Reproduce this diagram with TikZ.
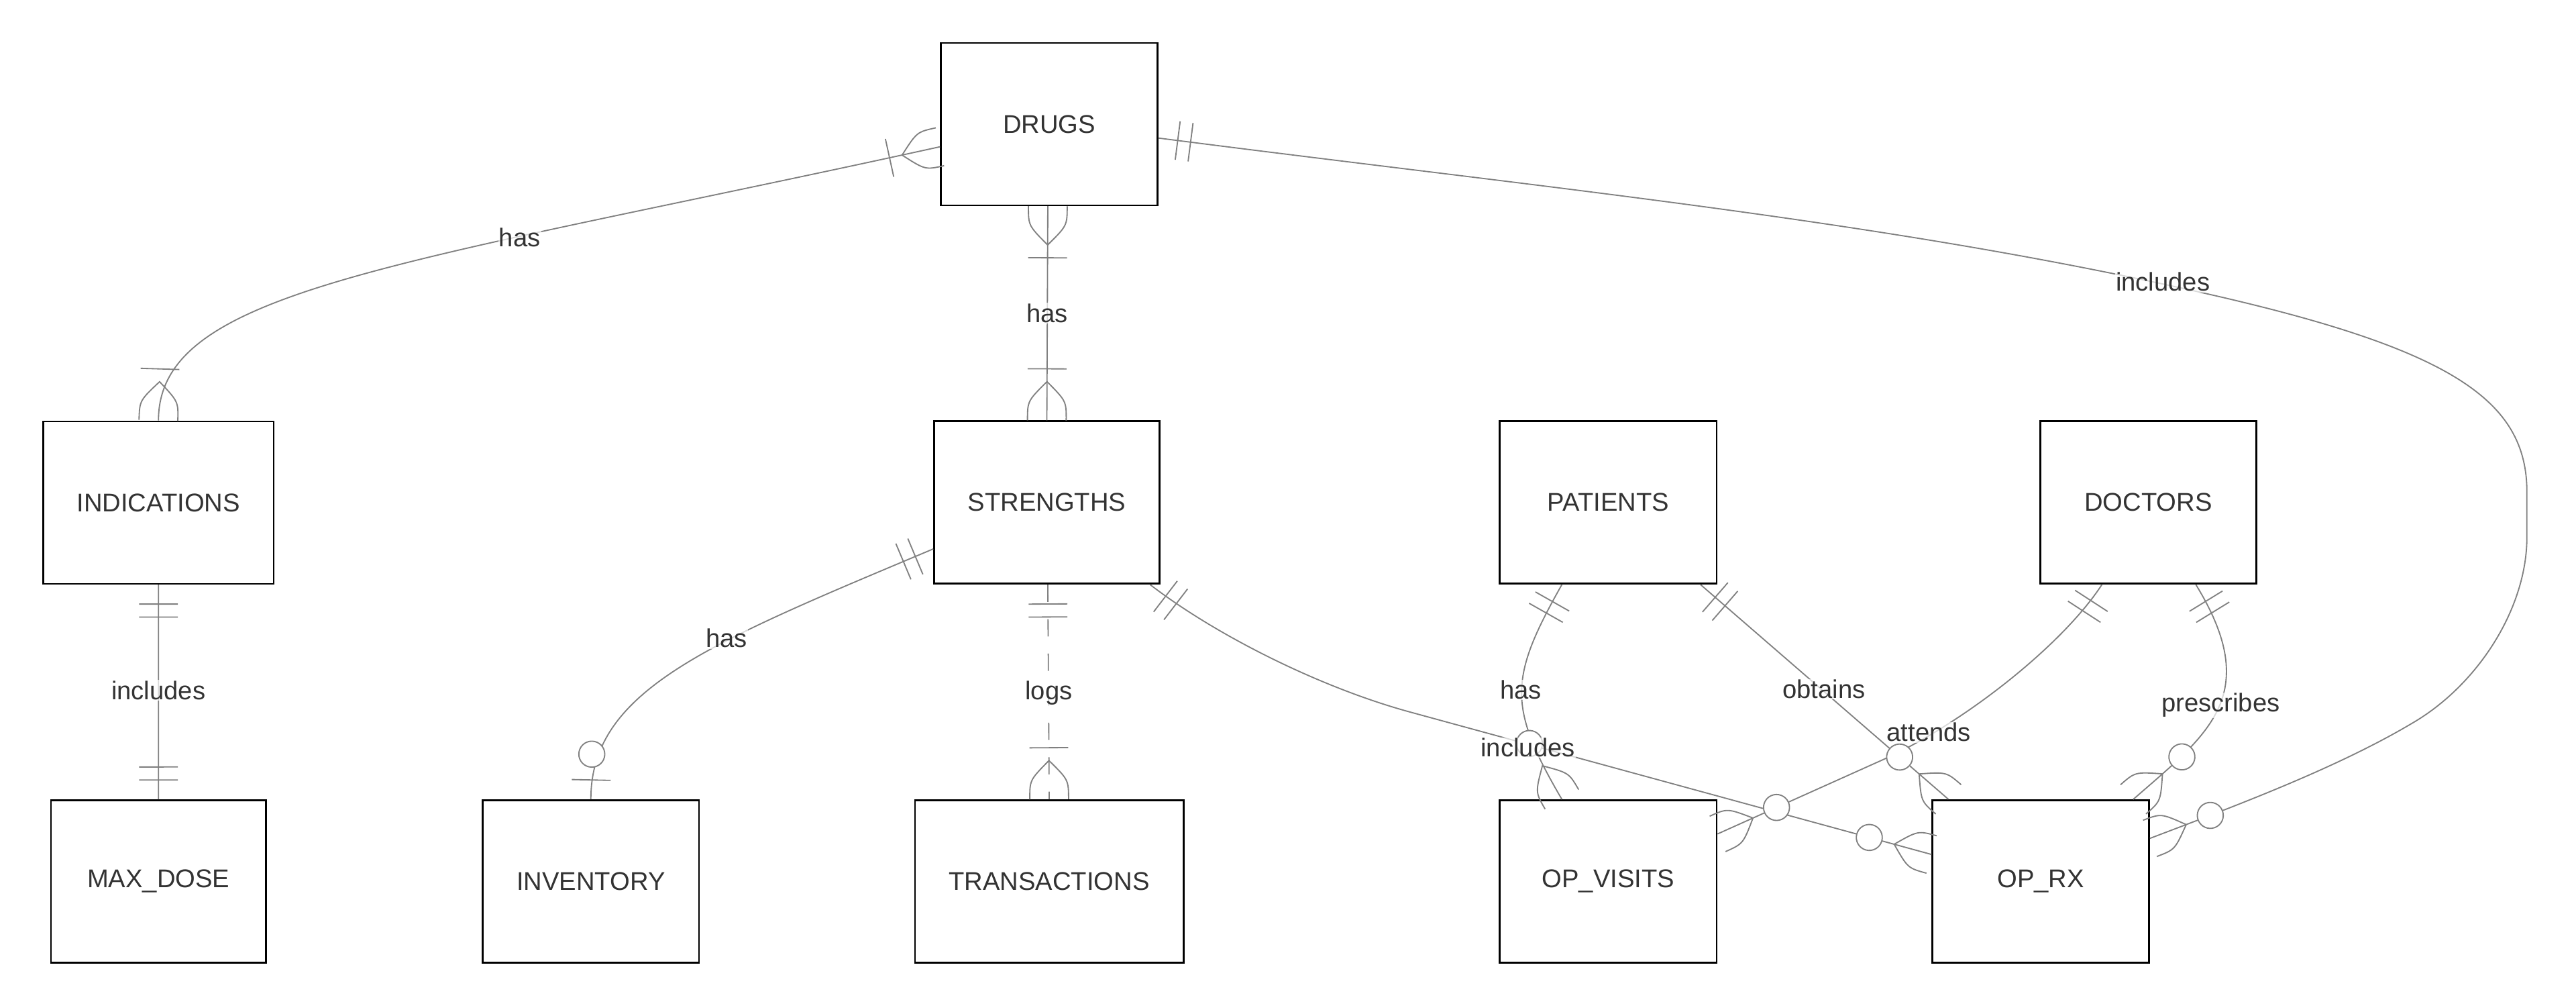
\documentclass[tikz,border=0pt]{standalone}
\usepackage{fontspec}
\setmainfont{Liberation Sans}
\usetikzlibrary{decorations.markings}
\definecolor{lc}{HTML}{808080}
\definecolor{txt}{HTML}{333333}
% #1 = direction sign (+1 start, -1 end), #2 = distance from the box edge, #3 = local offset of the box edge
\newcommand\mkbar[3]{\draw[mk] ({#3+(#1)*(#2pt)},-11.8pt) -- ({#3+(#1)*(#2pt)},11.8pt);}
\newcommand\mkcirc[3]{\draw[mk,fill=white] ({#3+(#1)*(#2pt)},0pt) circle[radius=7.9pt];}
\newcommand\mkcrow[2]{\draw[mk] ({#2},11.8pt) .. controls ({#2+(#1)*11.8pt},11.8pt) .. ({#2+(#1)*23.6pt},0pt) .. controls ({#2+(#1)*11.8pt},-11.8pt) .. ({#2},-11.8pt);}
\tikzset{
  entity/.style={draw=black, line width=1.1pt, fill=white, minimum height=98.8pt, inner sep=0pt, text=txt, font=\fontsize{15.6pt}{18pt}\selectfont},
  lbl/.style={fill=white, fill opacity=0.7, text opacity=1, text=txt, inner sep=0.5pt, anchor=base, font=\fontsize{15.6pt}{18pt}\selectfont},
  conn/.style={draw=lc, line width=0.75pt},
  mk/.style={draw=lc, line width=0.75pt, solid},
  dashline/.style={dash pattern=on 10.5pt off 10.5pt},
  s1m/.style={postaction={decorate,decoration={markings,mark=at position 0pt with {\mkcrow{1}{0pt}\mkbar{1}{31.4}{0pt}}}}},
  e1m/.style={postaction={decorate,decoration={markings,mark=at position -2pt with {\mkcrow{-1}{2pt}\mkbar{-1}{31.4}{2pt}}}}},
  s11/.style={postaction={decorate,decoration={markings,mark=at position 0pt with {\mkbar{1}{11.8}{0pt}\mkbar{1}{19.7}{0pt}}}}},
  e11/.style={postaction={decorate,decoration={markings,mark=at position -2pt with {\mkbar{-1}{11.8}{2pt}\mkbar{-1}{19.7}{2pt}}}}},
  e0m/.style={postaction={decorate,decoration={markings,mark=at position -2pt with {\mkcrow{-1}{2pt}\mkcirc{-1}{39.3}{2pt}}}}},
  e01/.style={postaction={decorate,decoration={markings,mark=at position -2pt with {\mkbar{-1}{11.8}{2pt}\mkcirc{-1}{27.5}{2pt}}}}}
}
\begin{document}
\begin{tikzpicture}[x=1pt,y=-1pt]
\fill[white] (0,0) rectangle (1568,613.3);
\useasboundingbox (0,0) rectangle (1568,613.3);

% entities
\node[entity, minimum width=131.9pt] (drugs) at (638.65,75.5) {DRUGS};
\node[entity, minimum width=140.3pt] (indications) at (96.45,305.8) {INDICATIONS};
\node[entity, minimum width=137.2pt] (strengths) at (637.2,305.75) {STRENGTHS};
\node[entity, minimum width=132pt] (patients) at (978.9,305.75) {PATIENTS};
\node[entity, minimum width=131.3pt] (doctors) at (1307.65,305.75) {DOCTORS};
\node[entity, minimum width=131pt] (max_dose) at (96.5,536.3) {MAX\_DOSE};
\node[entity, minimum width=131.7pt] (inventory) at (359.65,536.3) {INVENTORY};
\node[entity, minimum width=163.5pt] (transactions) at (638.65,536.3) {TRANSACTIONS};
\node[entity, minimum width=132pt] (op_visits) at (978.9,536.3) {OP\_VISITS};
\node[entity, minimum width=131.8pt] (op_rx) at (1242.2,536.3) {OP\_RX};

% relationships
\draw[conn,s1m,e1m] ([yshift=-13.8pt]drugs.west) .. controls (241.5,161.9) and (96.45,176) .. (indications.north);
\draw[conn,s1m,e1m] ([xshift=-0.85pt]drugs.south) -- (strengths.north);
\draw[conn,s11,e0m] ([yshift=-8.5pt]drugs.east) .. controls (952.6,115.8) and (1152.5,134.9) .. (1347.5,179.7)
   .. controls (1493.8,213.3) and (1538.1,244.4) .. (1538.1,299.4) -- (1538.1,326.7)
   .. controls (1538.1,370) and (1508.6,415.8) .. (1470,439)
   .. controls (1422.9,467.3) and (1359.6,490.7) .. ([yshift=26.2pt]op_rx.east);
\draw[conn,s11,e11] (indications.south) -- (max_dose.north);
\draw[conn,s11,e01] ([yshift=-28.25pt]strengths.west) .. controls (430.3,391.9) and (359.65,420) .. (inventory.north);
\draw[conn,dashline,s11,e1m] ([xshift=0.6pt]strengths.south) -- (transactions.north);
\draw[conn,s11,e0m] ([xshift=-6.3pt]strengths.south east) .. controls (741.5,387.5) and (804.8,418.6) .. (857.8,433.1) -- ([yshift=16.4pt]op_rx.west);
\draw[conn,s11,e0m] ([xshift=-28.2pt]patients.south) .. controls (918.4,412.8) and (917.6,429.8) .. ([xshift=-28.2pt]op_visits.north);
\draw[conn,s11,e0m] ([xshift=-28.25pt]doctors.south) .. controls (1255.9,391.9) and (1195.5,440.2) .. (1145.3,462.6) -- ([yshift=28.9pt]op_visits.east);
\draw[conn,s11,e0m] ([xshift=56.2pt]patients.south) -- ([xshift=-56.2pt]op_rx.north);
\draw[conn,s11,e0m] ([xshift=28.95pt]doctors.south) .. controls (1378.2,423.5) and (1343.3,447.1) .. ([xshift=56.3pt]op_rx.north);

% relationship labels
\node[lbl] (lA) at (316.3,150.1) {has};
\node[lbl] (lB) at (637.5,196) {has};
\node[lbl] (lC) at (1316.5,177.2) {includes};
\node[lbl] (lD) at (96.45,425.5) {includes};
\node[lbl] (lE) at (442.3,394) {has};
\node[lbl] (lF) at (638.4,425.5) {logs};
\node[lbl] (lG) at (930,460.5) {includes};
\node[lbl] (lH) at (925.7,425.3) {has};
\node[lbl] (lI) at (1110.2,425) {obtains};
\node[lbl] (lJ) at (1174.1,451.2) {attends};
\node[lbl] (lK) at (1351.7,433.1) {prescribes};
\end{tikzpicture}
\end{document}
